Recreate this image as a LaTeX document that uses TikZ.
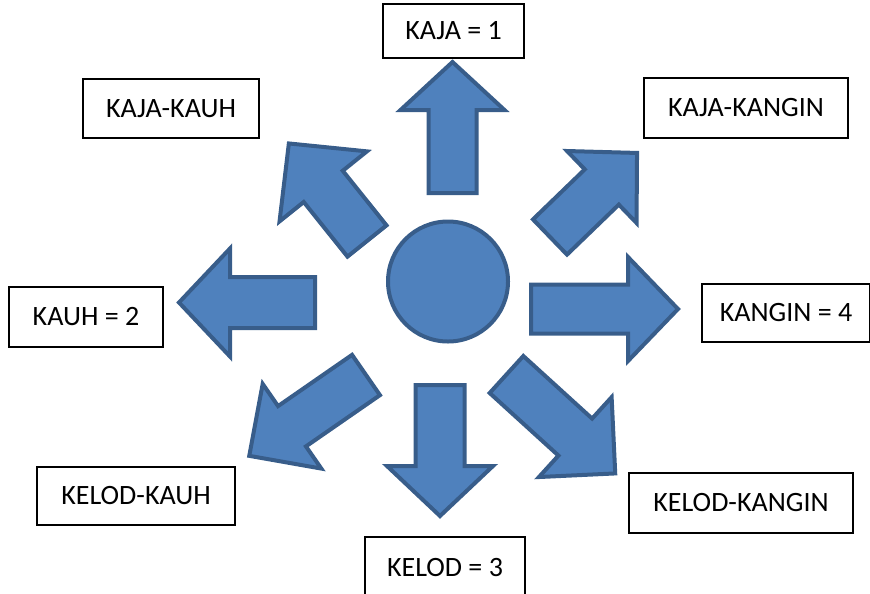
\documentclass[tikz,border=0pt]{standalone}
\usepackage{fontspec}
\setmainfont{Carlito}
\definecolor{afill}{HTML}{4F81BD}
\definecolor{aline}{HTML}{385D8A}
\tikzset{
  blockarrow/.style={fill=afill, draw=aline, line width=3pt, line join=miter},
  labelbox/.style={draw=black, line width=0.9pt, fill=white, inner sep=0pt,
     font=\fontsize{21}{25}\selectfont, text=black},
}
% tail x, tail y, angle, length, shaft width, head width, head length
\newcommand\blockarr[7]{%
  \draw[blockarrow, shift={(#1,#2)}, rotate=#3]
    (0,#5/2) -- (#4-#7,#5/2) -- (#4-#7,#6/2) -- (#4,0) -- (#4-#7,-#6/2)
    -- (#4-#7,-#5/2) -- (0,-#5/2) -- cycle;}
\begin{document}
\begin{tikzpicture}[x=0.75pt,y=-0.75pt]
\useasboundingbox (0,0) rectangle (870,593);
\clip (0,0) rectangle (870,593);
% arrows
\blockarr{452.5}{193}{90}{131}{48}{104}{48}
\blockarr{440}{385}{-90}{131}{49}{106}{50}
\blockarr{531}{309}{0}{147}{49}{104}{50}
\blockarr{315}{302.5}{180}{136}{51}{108}{51}
\blockarr{367}{241}{128.7}{125}{50}{112}{55}
\blockarr{550}{237}{44}{121}{49}{100}{49}
\blockarr{366}{375}{214.7}{142}{49}{103}{52}
\blockarr{506.5}{374.5}{-42.3}{147}{50}{108}{54}
% centre
\node[circle, fill=afill, draw=aline, line width=3pt, minimum size=90pt, inner sep=0pt] (c) at (448,281.5) {};
% labels
\node[labelbox, minimum width=105.75pt, minimum height=40.5pt] (kaja) at (453.5,31) {KAJA = 1};
\node[labelbox, minimum width=132pt, minimum height=44.25pt] (kajakauh) at (171,108.5) {KAJA-KAUH};
\node[labelbox, minimum width=153pt, minimum height=45pt] (kajakangin) at (746,108) {KAJA-KANGIN};
\node[labelbox, minimum width=115.5pt, minimum height=45pt] (kauh) at (86,317) {KAUH = 2};
\node[labelbox, minimum width=126pt, minimum height=43.5pt] (kangin) at (786,313) {KANGIN = 4};
\node[labelbox, minimum width=148.5pt, minimum height=43.5pt] (kelodkauh) at (136,496) {KELOD-KAUH};
\node[labelbox, minimum width=168pt, minimum height=45pt] (kelodkangin) at (741,503) {KELOD-KANGIN};
\node[labelbox, minimum width=120pt, minimum height=45pt] (kelod) at (445,567) {KELOD = 3};
\end{tikzpicture}
\end{document}
